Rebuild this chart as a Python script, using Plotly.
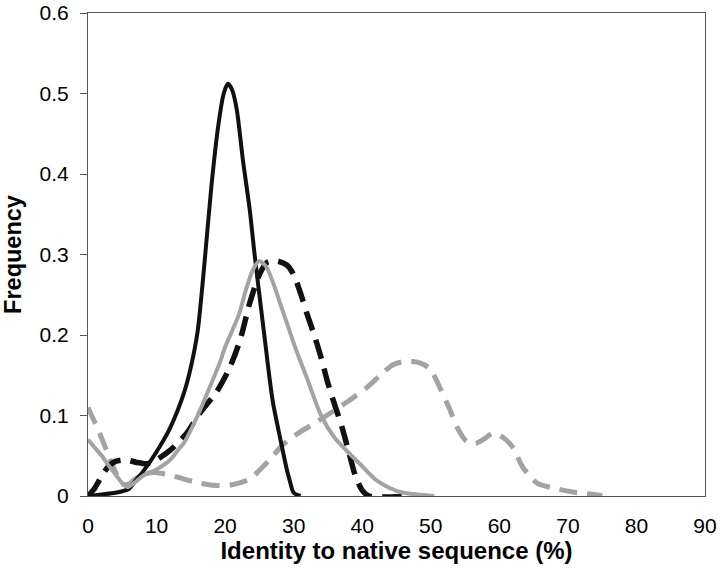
import plotly.graph_objects as go

# Black solid series
bs_x = [0, 2, 4, 6, 7, 8, 10, 12, 14, 15, 16, 17, 18, 19, 19.8, 20.4, 21, 21.7, 22.6, 23.6, 24.3, 25, 26, 26.5, 27, 28, 29, 29.4, 30, 31]
bs_y = [0, 0.002, 0.004, 0.009, 0.02, 0.03, 0.055, 0.085, 0.128, 0.16, 0.205, 0.29, 0.385, 0.46, 0.5, 0.512, 0.505, 0.48, 0.417, 0.355, 0.30, 0.25, 0.18, 0.145, 0.115, 0.073, 0.033, 0.02, 0.004, 0]

# Black dashed series
bd_x = [0, 1, 2, 3, 4, 5.5, 7, 8.6, 10, 12, 14.4, 16.3, 18.8, 20.7, 22.2, 23.6, 25, 26.1, 27.5, 29, 30, 31, 32, 33, 34, 35, 36, 37, 38, 39, 40, 41, 47]
bd_y = [0, 0.01, 0.025, 0.037, 0.043, 0.045, 0.042, 0.04, 0.045, 0.057, 0.078, 0.103, 0.13, 0.16, 0.194, 0.24, 0.275, 0.29, 0.292, 0.287, 0.275, 0.252, 0.225, 0.2, 0.172, 0.14, 0.113, 0.087, 0.056, 0.025, 0.007, 0, 0]

# Gray solid series
gs_x = [0, 1, 2, 3, 4, 5, 5.8, 7, 8, 10, 12, 13.4, 14, 16, 18, 19.2, 20, 22, 23, 24, 25, 26, 27, 28, 29, 30, 31, 32, 34, 36, 38, 40, 42, 44, 46, 48, 50.5]
gs_y = [0.07, 0.06, 0.05, 0.038, 0.027, 0.016, 0.011, 0.018, 0.025, 0.033, 0.045, 0.06, 0.066, 0.1, 0.14, 0.165, 0.185, 0.225, 0.255, 0.28, 0.292, 0.285, 0.265, 0.24, 0.215, 0.19, 0.167, 0.145, 0.1, 0.072, 0.054, 0.037, 0.02, 0.01, 0.004, 0.002, 0]

# Gray dashed series
gd_x = [0, 0.8, 1.7, 3, 4, 5, 6, 7, 8.6, 10, 12, 14, 16.3, 18.8, 21, 23.6, 25, 26.5, 28, 29, 31, 33, 35.7, 38, 40.7, 43, 44.5, 46, 47.4, 48.5, 49.9, 51.3, 52.8, 53.8, 55.2, 56.5, 58, 59, 60.5, 62, 63.4, 65.5, 67.8, 70.7, 74.6, 75]
gd_y = [0.11, 0.095, 0.078, 0.05, 0.03, 0.015, 0.015, 0.022, 0.028, 0.029, 0.026, 0.021, 0.016, 0.013, 0.014, 0.021, 0.032, 0.045, 0.06, 0.068, 0.08, 0.09, 0.105, 0.118, 0.135, 0.153, 0.163, 0.167, 0.167, 0.165, 0.158, 0.135, 0.107, 0.086, 0.068, 0.065, 0.072, 0.078, 0.073, 0.06, 0.036, 0.016, 0.01, 0.005, 0.001, 0]

x_ticks = [0, 10, 20, 30, 40, 50, 60, 70, 80, 90]
y_ticks = [0, 0.1, 0.2, 0.3, 0.4, 0.5, 0.6]
y_ticktext = ["0", "0.1", "0.2", "0.3", "0.4", "0.5", "0.6"]

BLACK = "#111111"
GRAY = "#a3a3a3"

fig = go.Figure()
fig.add_trace(go.Scatter(x=gd_x, y=gd_y, mode="lines",
                         line=dict(color=GRAY, width=5, dash="18px,10px", shape="spline", smoothing=0.7)))
fig.add_trace(go.Scatter(x=bd_x, y=bd_y, mode="lines",
                         line=dict(color=BLACK, width=5.5, dash="20px,10px", shape="spline", smoothing=0.7)))
fig.add_trace(go.Scatter(x=bs_x, y=bs_y, mode="lines",
                         line=dict(color=BLACK, width=4, shape="spline", smoothing=0.7)))
fig.add_trace(go.Scatter(x=gs_x, y=gs_y, mode="lines",
                         line=dict(color=GRAY, width=4, shape="spline", smoothing=0.7)))

font_family = "Liberation Sans, Arial, sans-serif"
fig.update_layout(
    width=720, height=572,
    margin=dict(l=88, r=15, t=13, b=76),
    paper_bgcolor="white", plot_bgcolor="white",
    showlegend=False,
    font=dict(family=font_family, size=21, color="black"),
    xaxis=dict(range=[0, 90], tickvals=x_ticks, showgrid=False, zeroline=False, automargin=False,
               showline=True, linecolor="#555555", linewidth=1, mirror=True,
               ticks="outside", ticklen=0, tickfont=dict(size=21),
               ticklabelstandoff=11, ticklabeloverflow="allow",
               title=dict(text="<b>Identity to native sequence (%)</b>", font=dict(size=24), standoff=3)),
    yaxis=dict(range=[0, 0.6], tickvals=y_ticks, ticktext=y_ticktext, showgrid=False, zeroline=False, automargin=False,
               showline=True, linecolor="#555555", linewidth=1, mirror=True,
               ticks="outside", ticklen=7, tickcolor="#555555", tickfont=dict(size=21),
               ticklabelstandoff=7, ticklabeloverflow="allow",
               title=dict(text="<b>Frequency</b>", font=dict(size=23.5), standoff=21)),
)

fig.write_html("out.html", config={"displayModeBar": False},
               post_script="document.body.style.margin='0';document.body.style.overflow='hidden';")
